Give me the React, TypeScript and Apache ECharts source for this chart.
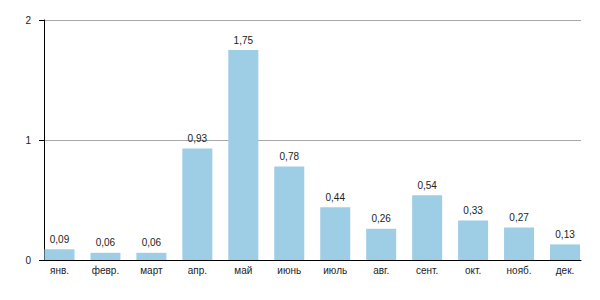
import React, { useEffect, useRef } from "react";
import * as echarts from "echarts";

const months = ["янв.", "февр.", "март", "апр.", "май", "июнь", "июль", "авг.", "сент.", "окт.", "нояб.", "дек."];
const values = [0.09, 0.06, 0.06, 0.93, 1.75, 0.78, 0.44, 0.26, 0.54, 0.33, 0.27, 0.13];
const yMin = 0;
const yMax = 2;
const yInterval = 1;

const FONT = '"Liberation Sans", Arial, Helvetica, sans-serif';
const TEXT = "#222222";

export default function App() {
  const ref = useRef<HTMLDivElement>(null);
  useEffect(() => {
    document.body.style.margin = "0";
    if (!ref.current) return;
    const chart = echarts.init(ref.current, null, { renderer: "svg" });
    chart.setOption({
      animation: false,
      backgroundColor: "#ffffff",
      textStyle: { fontFamily: FONT },
      grid: [
        { left: 36.5, right: 12, top: 20, bottom: 40 },
        { left: 44, right: 19, top: 20, bottom: 40 },
      ],
      xAxis: [
        {
          type: "category",
          gridIndex: 0,
          data: months,
          axisLine: { show: false },
          axisTick: { show: false },
          axisLabel: { margin: 5, fontSize: 10, color: TEXT, fontFamily: FONT },
          splitLine: { show: false },
        },
        {
          type: "value",
          gridIndex: 1,
          min: 0,
          max: 1,
          axisLine: { show: true, onZero: false, lineStyle: { color: "#000000", width: 1 } },
          axisTick: { show: false },
          axisLabel: { show: false },
          splitLine: { show: false },
        },
      ],
      yAxis: [
        {
          type: "value",
          gridIndex: 0,
          min: yMin,
          max: yMax,
          show: false,
          splitLine: { show: false },
        },
        {
          type: "value",
          gridIndex: 1,
          min: yMin,
          max: yMax,
          interval: yInterval,
          axisLine: { show: true, lineStyle: { color: "#000000", width: 1 } },
          axisTick: { show: true, length: 5, lineStyle: { color: "#000000" } },
          axisLabel: { margin: 13, fontSize: 10, color: TEXT, fontFamily: FONT },
          splitLine: { show: true, lineStyle: { color: "#a8a8a8", width: 1 } },
        },
      ],
      series: [
        {
          type: "bar",
          xAxisIndex: 0,
          yAxisIndex: 0,
          data: values,
          barWidth: 30,
          itemStyle: { color: "#9ecde6" },
          z: 3,
          label: {
            show: true,
            position: "top",
            distance: 5,
            fontSize: 10,
            color: TEXT,
            fontFamily: FONT,
            formatter: (p: any) => String(p.value.toFixed(2)).replace(".", ","),
          },
        },
      ],
    });
    return () => chart.dispose();
  }, []);
  return <div ref={ref} style={{ width: 600, height: 300 }} />;
}
